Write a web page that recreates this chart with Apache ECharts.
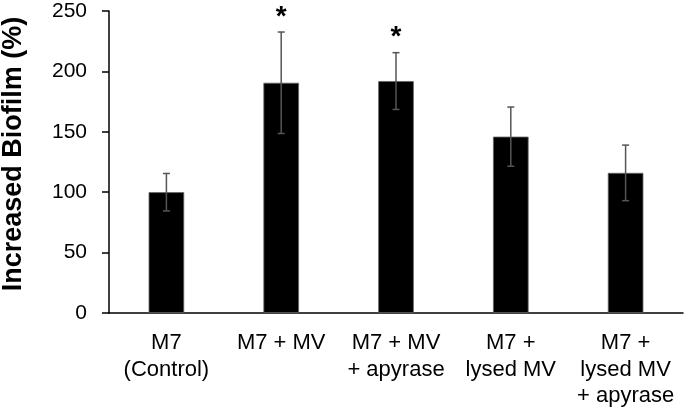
<!DOCTYPE html>
<html>
<head>
<meta charset="utf-8">
<script src="https://cdn.jsdelivr.net/npm/echarts@6/dist/echarts.min.js"></script>
<style>
  html, body { margin: 0; padding: 0; background: #fff; }
  #main { width: 685px; height: 413px; }
</style>
</head>
<body>
<div id="main"></div>
<script>
// data
const categories = ['M7\n(Control)', 'M7 + MV', 'M7 + MV\n+ apyrase', 'M7 +\nlysed MV', 'M7 +\nlysed MV\n+ apyrase'];
const means = [100, 190.6, 192, 146, 116];
const errors = [15.5, 42, 23.5, 24.5, 23];
const significant = [false, true, true, false, false];

let myChart = echarts.init(document.getElementById('main'));

let errData = means.map((m, i) => [i, m - errors[i], m + errors[i], significant[i] ? 1 : 0]);

let option = {
  animation: false,
  grid: { left: 109, right: 2, top: 11, bottom: 100, containLabel: false, outerBoundsMode: 'none' },
  xAxis: {
    type: 'category',
    data: categories,
    axisLine: { lineStyle: { color: '#000', width: 1.5 } },
    axisTick: { show: false },
    axisLabel: {
      color: '#000',
      fontFamily: 'Liberation Sans',
      fontSize: 22,
      lineHeight: 26.5,
      margin: 17,
      interval: 0
    }
  },
  yAxis: {
    type: 'value',
    min: 0,
    max: 250,
    interval: 50,
    name: 'Increased Biofilm (%)',
    nameLocation: 'middle',
    nameGap: 82,
    nameTextStyle: {
      color: '#000', fontFamily: 'Liberation Sans', fontSize: 27, fontWeight: 'bold',
      padding: [0, 0, 0, 16]
    },
    splitLine: { show: false },
    axisLine: { show: true, lineStyle: { color: '#000', width: 1.5 } },
    axisTick: { show: true, length: 7, lineStyle: { color: '#000', width: 1.5 } },
    axisLabel: { color: '#000', fontFamily: 'Liberation Sans', fontSize: 21, margin: 22 }
  },
  series: [
    {
      type: 'bar',
      data: means,
      barWidth: '31%',
      itemStyle: { color: '#000', borderColor: '#666', borderWidth: 0.8 }
    },
    {
      type: 'custom',
      data: errData,
      z: 10,
      renderItem: function (params, api) {
        let x = api.value(0);
        let lo = api.coord([x, api.value(1)]);
        let hi = api.coord([x, api.value(2)]);
        let cap = 3.5;
        let style = { stroke: '#555', lineWidth: 1.5 };
        let children = [
          { type: 'line', shape: { x1: lo[0], y1: lo[1], x2: hi[0], y2: hi[1] }, style: style },
          { type: 'line', shape: { x1: lo[0] - cap, y1: lo[1], x2: lo[0] + cap, y2: lo[1] }, style: style },
          { type: 'line', shape: { x1: hi[0] - cap, y1: hi[1], x2: hi[0] + cap, y2: hi[1] }, style: style }
        ];
        if (api.value(3) === 1) {
          children.push({
            type: 'text',
            style: {
              x: hi[0], y: hi[1] - 1, text: '*',
              fill: '#000', font: 'bold 28px Liberation Sans',
              align: 'center', verticalAlign: 'bottom'
            }
          });
        }
        return { type: 'group', children: children };
      }
    }
  ]
};

myChart.setOption(option);
</script>
</body>
</html>
